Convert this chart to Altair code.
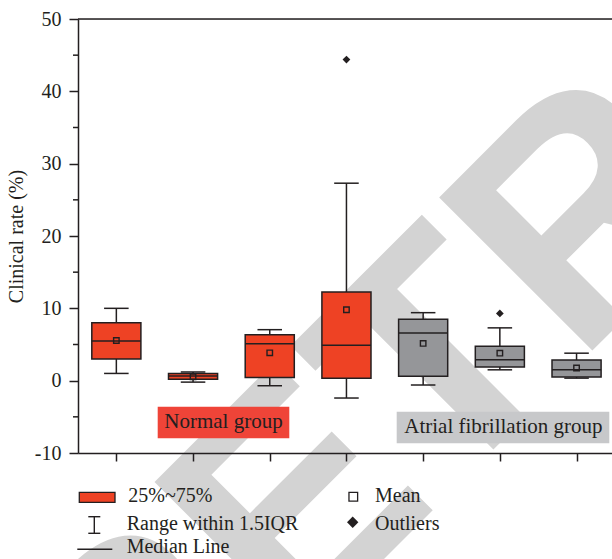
import altair as alt
import pandas as pd

# Box-plot summary per group (clinical rate, %)
positions = [1, 2, 3, 4, 5, 6, 7]
groups = ["Normal", "Normal", "Normal", "Normal", "AF", "AF", "AF"]
whisker_low = [1.0, -0.2, -0.7, -2.4, -0.6, 1.5, 0.35]
q1 = [3.0, 0.2, 0.45, 0.35, 0.6, 1.9, 0.5]
median = [5.5, 0.65, 5.1, 4.9, 6.6, 2.9, 1.5]
q3 = [8.0, 1.0, 6.35, 12.25, 8.5, 4.75, 2.85]
whisker_high = [10.0, 1.2, 7.05, 27.3, 9.4, 7.3, 3.8]
mean = [5.55, 0.55, 3.85, 9.8, 5.15, 3.8, 1.75]

outlier_pos = [4, 6]
outlier_val = [44.4, 9.3]

y_ticks = [-10, 0, 10, 20, 30, 40, 50]
y_minor = [-5, 5, 15, 25, 35, 45]

RED = "#EE4224"
GRAY = "#959699"
INK = "#231F20"
FONT = "Liberation Serif"
BOX_HALF = 0.32
CAP_HALF = 0.16

W, H = 534, 434

df = pd.DataFrame({
    "pos": positions, "group": groups, "lo": whisker_low, "q1": q1,
    "med": median, "q3": q3, "hi": whisker_high, "mean": mean,
})
df["bl"] = df["pos"] - BOX_HALF
df["br"] = df["pos"] + BOX_HALF
df["cl"] = df["pos"] - CAP_HALF
df["cr"] = df["pos"] + CAP_HALF

out_df = pd.DataFrame({"pos": outlier_pos, "val": outlier_val})

xs = alt.Scale(domain=[0.5, 0.5 + W / 76.7], nice=False, zero=False)
ys = alt.Scale(domain=[-10, 50], nice=False, zero=False)

x_axis = alt.Axis(values=positions, labels=False, title=None, tickSize=8,
                  tickWidth=1.5, tickColor=INK, domainColor=INK, domainWidth=1.5,
                  grid=False, zindex=1)
y_axis = alt.Axis(values=y_ticks, labelExpr="'' + datum.value", title="Clinical rate (%)",
                  tickSize=9, tickWidth=1.5, tickColor=INK, domainColor=INK,
                  domainWidth=1.5, grid=False, labelFont=FONT, labelFontSize=20,
                  labelColor=INK, labelPadding=8, titleFont=FONT, titleFontSize=20,
                  titleFontWeight="normal", titleColor=INK, titlePadding=8, zindex=1)

color = alt.Color("group:N", scale=alt.Scale(domain=["Normal", "AF"], range=[RED, GRAY]),
                  legend=None)

one = pd.DataFrame({"k": [0]})

# Background watermark lettering
watermark = alt.Chart(pd.DataFrame({"t": ["RETRACTED"]})).mark_text(
    font="Liberation Sans", fontWeight="bold", fontSize=315, angle=315,
    align="left", baseline="alphabetic", color="#D3D3D3"
).encode(text="t:N", x=alt.value(54), y=alt.value(792))

# Group labels inside the plot
lab_rects = alt.Chart(pd.DataFrame({
    "x": [79.7, 318.7], "x2": [211.3, 531.3], "y": [387.7, 392.7], "y2": [419.3, 424.3],
    "c": ["#EF4438", "#C7C8CA"],
})).mark_rect().encode(
    x=alt.X("x:Q", scale=None), x2="x2:Q", y=alt.Y("y:Q", scale=None), y2="y2:Q",
    fill=alt.Fill("c:N", scale=None),
)
lab_text = alt.Chart(pd.DataFrame({
    "t": ["Normal group", "Atrial fibrillation group"], "x": [145.5, 425.4], "y": [409.3, 414.3],
})).mark_text(font=FONT, fontSize=21, color=INK, align="center", baseline="alphabetic").encode(
    text="t:N", x=alt.X("x:Q", scale=None), y=alt.Y("y:Q", scale=None)
)

base = alt.Chart(df)
whisk = base.mark_rule(color=INK, strokeWidth=1.5).encode(
    x=alt.X("pos:Q", scale=xs, axis=x_axis),
    y=alt.Y("lo:Q", scale=ys, axis=y_axis), y2="hi:Q")
cap_hi = base.mark_rule(color=INK, strokeWidth=1.5).encode(
    x=alt.X("cl:Q", scale=xs), x2="cr:Q", y=alt.Y("hi:Q", scale=ys))
cap_lo = base.mark_rule(color=INK, strokeWidth=1.5).encode(
    x=alt.X("cl:Q", scale=xs), x2="cr:Q", y=alt.Y("lo:Q", scale=ys))
boxes = base.mark_rect(stroke=INK, strokeWidth=1.5).encode(
    x=alt.X("bl:Q", scale=xs), x2="br:Q", y=alt.Y("q1:Q", scale=ys), y2="q3:Q", fill=color)
meds = base.mark_rule(color=INK, strokeWidth=1.5).encode(
    x=alt.X("bl:Q", scale=xs), x2="br:Q", y=alt.Y("med:Q", scale=ys))
means = base.mark_point(shape="square", filled=False, size=30, stroke=INK, strokeWidth=1.4,
                        opacity=1).encode(
    x=alt.X("pos:Q", scale=xs), y=alt.Y("mean:Q", scale=ys))
outs = alt.Chart(out_df).mark_point(shape="diamond", filled=True, size=60, color=INK,
                                     opacity=1).encode(
    x=alt.X("pos:Q", scale=xs), y=alt.Y("val:Q", scale=ys))

# Minor ticks on the y axis and the top frame line
minor = alt.Chart(pd.DataFrame({"v": y_minor})).mark_rule(color=INK, strokeWidth=1.5).encode(
    y=alt.Y("v:Q", scale=ys), x=alt.value(-5), x2=alt.value(0))
top = alt.Chart(one).mark_rule(color=INK, strokeWidth=1.5).encode(
    x=alt.value(0), x2=alt.value(W), y=alt.value(0))

# Legend, drawn below the plot
leg_box = alt.Chart(one).mark_rect(fill=RED, stroke=INK, strokeWidth=1.3).encode(
    x=alt.value(1.3), x2=alt.value(37), y=alt.value(473.3), y2=alt.value(483.3))
leg_lines = alt.Chart(pd.DataFrame({
    "x": [16.3, 10.3, 10.3, -0.7], "x2": [16.3, 22.3, 22.3, 34.3],
    "y": [497.7, 497.7, 514.3, 530.3], "y2": [514.3, 497.7, 514.3, 530.3],
})).mark_rule(color=INK, strokeWidth=1.4).encode(
    x=alt.X("x:Q", scale=None), x2="x2:Q", y=alt.Y("y:Q", scale=None), y2="y2:Q")
leg_mean = alt.Chart(one).mark_point(shape="square", filled=False, size=75, stroke=INK,
                                     strokeWidth=1.3, opacity=1).encode(
    x=alt.value(275.3), y=alt.value(477.7))
leg_out = alt.Chart(one).mark_point(shape="diamond", filled=True, size=130, color=INK,
                                    opacity=1).encode(
    x=alt.value(274.7), y=alt.value(503.3))
leg_text = alt.Chart(pd.DataFrame({
    "t": ["25%~75%", "Range within 1.5IQR", "Median Line", "Mean", "Outliers"],
    "x": [50.3, 48.7, 48.7, 297.0, 297.0],
    "y": [483.0, 511.0, 534.3, 483.0, 511.0],
})).mark_text(font=FONT, fontSize=20, color=INK, align="left", baseline="alphabetic").encode(
    text="t:N", x=alt.X("x:Q", scale=None), y=alt.Y("y:Q", scale=None))

chart = alt.layer(
    watermark, lab_rects, lab_text, whisk, cap_hi, cap_lo, boxes, meds, means, outs,
    minor, top, leg_box, leg_lines, leg_mean, leg_out, leg_text,
).properties(
    width=W, height=H,
    autosize=alt.AutoSizeParams(type="none"),
    padding={"left": 78, "top": 19, "right": 0, "bottom": 559 - 19 - H},
).configure_view(stroke=None).configure(background="white")

chart.save("out.html", embed_options={"renderer": "svg", "actions": False})
